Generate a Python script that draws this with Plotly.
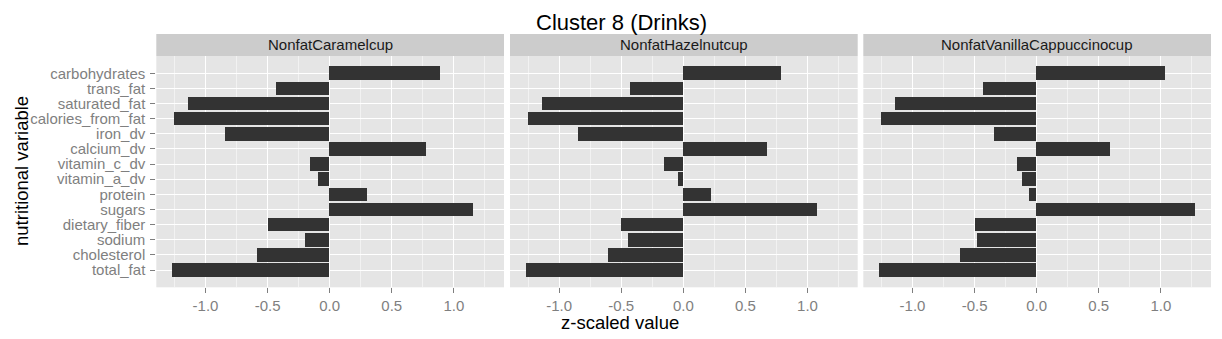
import plotly.graph_objects as go

# ---------------- data ----------------
variables = ["carbohydrates", "trans_fat", "saturated_fat", "calories_from_fat", "iron_dv",
             "calcium_dv", "vitamin_c_dv", "vitamin_a_dv", "protein", "sugars",
             "dietary_fiber", "sodium", "cholesterol", "total_fat"]  # top to bottom

drinks = ["NonfatCaramelcup", "NonfatHazelnutcup", "NonfatVanillaCappuccinocup"]

caramel = [0.89, -0.426, -1.138, -1.253, -0.843, 0.779, -0.153, -0.088, 0.305, 1.157,
           -0.498, -0.20, -0.586, -1.269]
hazelnut = [0.79, -0.431, -1.138, -1.251, -0.849, 0.677, -0.158, -0.046, 0.219, 1.079,
            -0.504, -0.447, -0.608, -1.267]
vanilla = [1.036, -0.426, -1.141, -1.253, -0.345, 0.594, -0.153, -0.112, -0.056, 1.277,
           -0.498, -0.482, -0.618, -1.269]

x_tick_values = [-1.0, -0.5, 0.0, 0.5, 1.0]
x_tick_labels = ["-1.0", "-0.5", "0.0", "0.5", "1.0"]

title_text = "Cluster 8 (Drinks)"
x_title = "z-scaled value"
y_title = "nutritional variable"

# ---------------- layout constants ----------------
W, H = 1222, 339
panels_px = [(156.3, 504.0), (510.0, 857.7), (863.3, 1211.0)]
panel_top, panel_bot = 56.0, 287.3
strip_top = 34.0

TICK_GREY = "#7F7F7F"
FONT = "Liberation Sans, Arial, Helvetica, sans-serif"

series = [caramel, hazelnut, vanilla]
allv = [v for s in series for v in s]
lo, hi = min(allv), max(allv)
span = hi - lo
xr = [lo - 0.05 * span, hi + 0.05 * span]
cat_order = list(reversed(variables))  # bottom to top
yr = [-1.14, len(variables) - 1 + 1.14]

fig = go.Figure()
ydom = [1 - panel_bot / H, 1 - panel_top / H]

for i, (name, vals) in enumerate(zip(drinks, series)):
    n = "" if i == 0 else str(i + 1)
    fig.add_trace(go.Bar(
        x=vals, y=variables, orientation="h", width=0.9,
        marker=dict(color="#333333", line=dict(width=0)),
        xaxis="x" + n, yaxis="y" + n, showlegend=False, hoverinfo="x+y",
    ))
    x0, x1 = panels_px[i]
    fig.update_layout(**{
        "xaxis" + n: dict(
            domain=[x0 / W, x1 / W], anchor="y" + n, range=xr,
            tickmode="array", tickvals=x_tick_values, ticktext=x_tick_labels,
            showgrid=True, gridcolor="white", gridwidth=1.4,
            zeroline=False, showline=False,
            ticks="outside", ticklen=5, tickwidth=1, tickcolor=TICK_GREY,
            tickfont=dict(family=FONT, size=15, color=TICK_GREY),
            ticklabelstandoff=0,
            minor=dict(tickmode="array",
                       tickvals=[-1.25, -0.75, -0.25, 0.25, 0.75, 1.25],
                       showgrid=True, gridcolor="#F2F2F2", gridwidth=0.8, ticks=""),
            fixedrange=True,
        ),
        "yaxis" + n: dict(
            domain=ydom, anchor="x" + n, type="category",
            categoryorder="array", categoryarray=cat_order, range=yr,
            tickmode="array", tickvals=variables, ticktext=variables,
            showgrid=True, gridcolor="white", gridwidth=1.4,
            zeroline=False, showline=False,
            ticks="outside" if i == 0 else "", ticklen=5, tickwidth=1, tickcolor=TICK_GREY,
            showticklabels=(i == 0),
            ticklabelstandoff=2,
            tickfont=dict(family=FONT, size=15, color=TICK_GREY),
            fixedrange=True,
        ),
    })
    # strip
    fig.add_shape(type="rect", xref="paper", yref="paper",
                  x0=x0 / W, x1=x1 / W, y0=1 - panel_top / H, y1=1 - strip_top / H,
                  fillcolor="#CCCCCC", line=dict(width=0), layer="below")
    fig.add_annotation(text=name, xref="paper", yref="paper",
                       x=(x0 + x1) / 2 / W, y=1 - (panel_top + strip_top) / 2 / H,
                       xanchor="center", yanchor="middle", showarrow=False,
                       font=dict(family=FONT, size=15, color="#1A1A1A"))

fig.add_annotation(text=title_text, xref="paper", yref="paper",
                   x=621.5 / W, y=1 - 22 / H, xanchor="center", yanchor="middle",
                   showarrow=False, font=dict(family=FONT, size=22, color="black"))
fig.add_annotation(text=x_title, xref="paper", yref="paper",
                   x=620.2 / W, y=1 - 322 / H, xanchor="center", yanchor="middle",
                   showarrow=False, font=dict(family=FONT, size=18.5, color="black"))
fig.add_annotation(text=y_title, xref="paper", yref="paper", textangle=-90,
                   x=21 / W, y=1 - 171 / H, xanchor="center", yanchor="middle",
                   showarrow=False, font=dict(family=FONT, size=18.5, color="black"))

fig.update_layout(
    width=W, height=H, margin=dict(l=0, r=0, t=0, b=0, pad=0),
    paper_bgcolor="white", plot_bgcolor="#E5E5E5",
    bargap=0, showlegend=False, font=dict(family=FONT),
)

fig.write_html("out.html", config={"displayModeBar": False})
